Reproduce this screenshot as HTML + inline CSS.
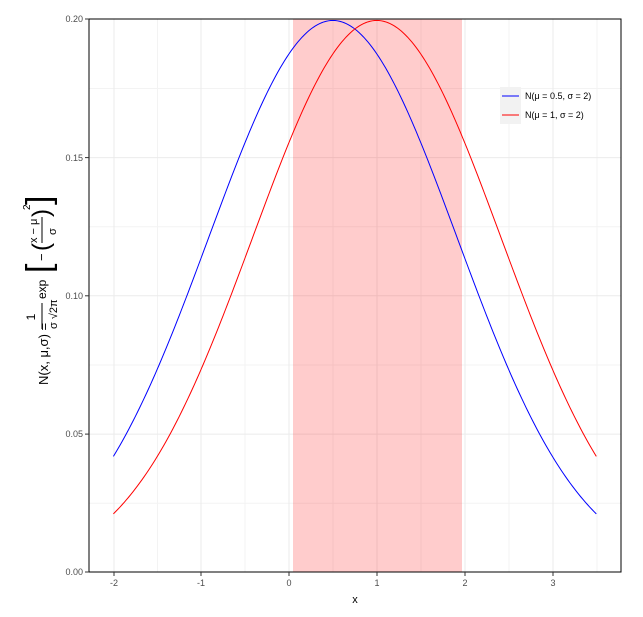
<!DOCTYPE html>
<html><head><meta charset="utf-8"><style>body{margin:0;background:#fff}svg{display:block}</style></head>
<body>
<svg width="643" height="617" xmlns="http://www.w3.org/2000/svg" font-family="Liberation Sans, sans-serif">
<rect width="643" height="617" fill="#fff"/>
<g stroke="#f3f3f3" stroke-width="1">
<line x1="89" x2="621" y1="503.3" y2="503.3"/><line x1="89" x2="621" y1="365" y2="365"/><line x1="89" x2="621" y1="226.8" y2="226.8"/><line x1="89" x2="621" y1="88.5" y2="88.5"/>
<line y1="19" y2="572" x1="157.5" x2="157.5"/><line y1="19" y2="572" x1="245" x2="245"/><line y1="19" y2="572" x1="333" x2="333"/><line y1="19" y2="572" x1="421" x2="421"/><line y1="19" y2="572" x1="509" x2="509"/><line y1="19" y2="572" x1="597" x2="597"/>
</g>
<g stroke="#ebebeb" stroke-width="1">
<line x1="89" x2="621" y1="434.1" y2="434.1"/><line x1="89" x2="621" y1="295.8" y2="295.8"/><line x1="89" x2="621" y1="157.6" y2="157.6"/>
<line y1="19" y2="572" x1="114" x2="114"/><line y1="19" y2="572" x1="201" x2="201"/><line y1="19" y2="572" x1="289" x2="289"/><line y1="19" y2="572" x1="377" x2="377"/><line y1="19" y2="572" x1="465" x2="465"/><line y1="19" y2="572" x1="553" x2="553"/>
</g>
<rect x="293" y="19" width="169" height="553" fill="#ff0000" fill-opacity="0.2"/>
<path id="b" fill="none" stroke="#0000ff" stroke-width="1"/>
<path id="r" fill="none" stroke="#ff0000" stroke-width="1"/>
<rect x="89" y="19" width="532" height="553" fill="none" stroke="#000" stroke-width="1"/>
<g fill="#4d4d4d" font-size="9" text-anchor="end">
<text x="83" y="575">0.00</text><text x="83" y="437">0.05</text><text x="83" y="299">0.10</text><text x="83" y="161">0.15</text><text x="83" y="22">0.20</text>
</g>
<g stroke="#333" stroke-width="1">
<line x1="85" x2="89" y1="572" y2="572"/><line x1="85" x2="89" y1="434.1" y2="434.1"/><line x1="85" x2="89" y1="295.8" y2="295.8"/><line x1="85" x2="89" y1="157.6" y2="157.6"/><line x1="85" x2="89" y1="19" y2="19"/>
<line y1="572" y2="576" x1="114" x2="114"/><line y1="572" y2="576" x1="201" x2="201"/><line y1="572" y2="576" x1="289" x2="289"/><line y1="572" y2="576" x1="377" x2="377"/><line y1="572" y2="576" x1="465" x2="465"/><line y1="572" y2="576" x1="553" x2="553"/>
</g>
<g fill="#4d4d4d" font-size="9" text-anchor="middle">
<text x="114" y="586">-2</text><text x="201" y="586">-1</text><text x="289" y="586">0</text><text x="377" y="586">1</text><text x="465" y="586">2</text><text x="553" y="586">3</text>
</g>
<text x="355" y="603" font-size="11" text-anchor="middle">x</text>
<rect x="500" y="87" width="21" height="37" fill="#f2f2f2"/>
<line x1="502" x2="519" y1="96" y2="96" stroke="#0000ff"/>
<line x1="502" x2="519" y1="115" y2="115" stroke="#ff0000"/>
<text x="525" y="99" font-size="9">N(μ = 0.5, σ = 2)</text>
<text x="525" y="118" font-size="9">N(μ = 1, σ = 2)</text>
<g transform="translate(42,295) rotate(-90)" font-size="13" fill="#000">
<text x="-90" y="6">N(x, μ,σ) =</text>
<text x="-22" y="-7" font-size="12" text-anchor="middle">1</text>
<line x1="-34" x2="-8" y1="0" y2="0" stroke="#000"/>
<text x="-34" y="15" font-size="11">σ √2π</text>
<text x="-4" y="4" font-size="12">exp</text>
<text x="22" y="8" font-size="34">[</text>
<text x="34" y="4">−</text>
<text x="44" y="7" font-size="24">(</text>
<text x="52" y="-5" font-size="11">x − μ</text>
<line x1="52" x2="78" y1="0" y2="0" stroke="#000"/>
<text x="60" y="14" font-size="11">σ</text>
<text x="78" y="7" font-size="24">)</text>
<text x="85" y="-12" font-size="10">2</text>
<text x="90" y="8" font-size="34">]</text>
</g>
<script>
function f(x,m){return Math.exp(-Math.pow((x-m)/2,2))/(2*Math.sqrt(2*Math.PI));}
function p(m){var s="";for(var i=0;i<=220;i++){var x=-2+5.5*i/220;var X=289+x*87.8;var Y=572-f(x,m)/0.2*553;s+=(i?"L":"M")+X.toFixed(2)+","+Y.toFixed(2);}return s;}
document.getElementById("b").setAttribute("d",p(0.5));
document.getElementById("r").setAttribute("d",p(1));
</script>
</svg>
</body></html>
